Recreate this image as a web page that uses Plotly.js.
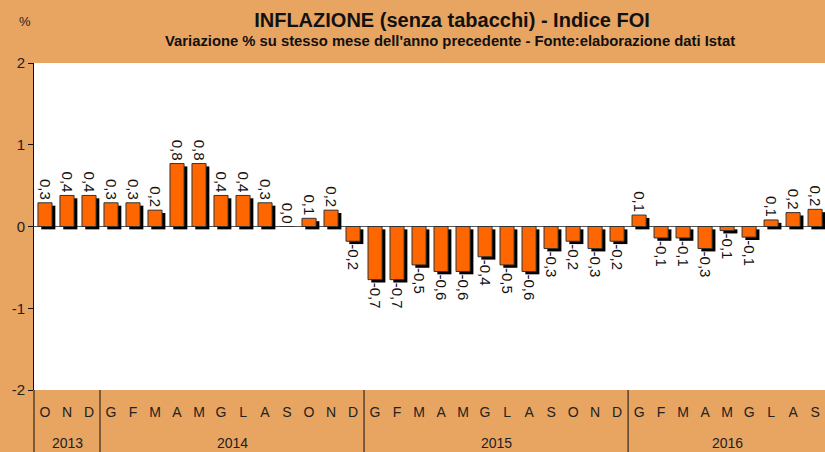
<!DOCTYPE html>
<html>
<head>
<meta charset="utf-8">
<script src="https://cdn.plot.ly/plotly-3.0.1.min.js"></script>
<style>html,body{margin:0;padding:0;overflow:hidden;background:#E8A461;}#chart{width:825px;height:452px;}</style>
</head>
<body>
<div id="chart"></div>
<script>
const months = ['O','N','D',
  'G','F','M','A','M','G','L','A','S','O','N','D',
  'G','F','M','A','M','G','L','A','S','O','N','D',
  'G','F','M','A','M','G','L','A','S'];
const years = ['2013','2014','2015','2016'];
const yearCounts = [3, 12, 12, 9];
const values = [0.29, 0.38, 0.38,
  0.29, 0.29, 0.20, 0.77, 0.77, 0.38, 0.38, 0.29, 0.00, 0.10, 0.20, -0.18,
  -0.65, -0.65, -0.47, -0.55, -0.55, -0.37, -0.47, -0.55, -0.27, -0.18, -0.27, -0.18,
  0.14, -0.14, -0.14, -0.27, -0.05, -0.13, 0.08, 0.17, 0.21];
const labels = ['0,3','0,4','0,4',
  '0,3','0,3','0,2','0,8','0,8','0,4','0,4','0,3','0,0','0,1','0,2','-0,2',
  '-0,7','-0,7','-0,5','-0,6','-0,6','-0,4','-0,5','-0,6','-0,3','-0,2','-0,3','-0,2',
  '0,1','-0,1','-0,1','-0,3','-0,1','-0,1','0,1','0,2','0,2'];
const yTicks = [-2, -1, 0, 1, 2];

const xs = months.map((m, i) => i);
const BW = 0.64;
const FONT = 'Liberation Sans, Arial, sans-serif';
const PLOT_L = 34, PLOT_W = 791, PLOT_H = 327;
const py = (pix) => (390 - pix) / PLOT_H;    // pixel y -> paper y
const px = (pix) => (pix - PLOT_L) / PLOT_W; // pixel x -> paper x

const shadow = {
  type: 'bar', x: xs, y: values, base: -0.035,
  width: BW, offset: -BW/2 + 0.15,
  marker: {color: '#000000', line: {width: 0}},
  hoverinfo: 'skip', showlegend: false
};
const bars = {
  type: 'bar', x: xs, y: values,
  width: BW, offset: -BW/2,
  marker: {color: '#FF6600', line: {color: '#333333', width: 1}},
  text: labels, textposition: 'outside', textangle: 90,
  constraintext: 'none', cliponaxis: false,
  textfont: {family: FONT, size: 15, color: '#111111'},
  hoverinfo: 'skip', showlegend: false
};

const annotations = [];
const shapes = [];
let start = 0;
years.forEach((y, k) => {
  const n = yearCounts[k];
  annotations.push({
    x: start + (n - 1) / 2, xref: 'x', y: py(443), yref: 'paper',
    text: y, showarrow: false, xanchor: 'center', yanchor: 'middle',
    font: {family: FONT, size: 14, color: '#222222'}
  });
  start += n;
  if (k < years.length - 1) {
    shapes.push({type: 'line', xref: 'x', yref: 'paper', x0: start - 0.5, x1: start - 0.5,
      y0: 0, y1: py(460), line: {color: '#111111', width: 1}});
  }
});
shapes.push({type: 'line', xref: 'paper', yref: 'paper', x0: 0, x1: 0,
  y0: 0, y1: py(460), line: {color: '#111111', width: 1}});

annotations.push({
  x: px(450), xref: 'paper', y: py(41), yref: 'paper',
  text: "<b>Variazione % su stesso mese dell'anno precedente - Fonte:elaborazione dati Istat</b>",
  showarrow: false, xanchor: 'center', yanchor: 'middle',
  font: {family: FONT, size: 14.8, color: '#111111'}
});
annotations.push({
  x: px(25), xref: 'paper', y: py(21), yref: 'paper',
  text: '%', showarrow: false, xanchor: 'center', yanchor: 'middle',
  font: {family: FONT, size: 13, color: '#222222'}
});

const layout = {
  width: 825, height: 452,
  margin: {l: 34, r: 0, t: 63, b: 62},
  paper_bgcolor: '#E8A461', plot_bgcolor: '#FFFFFF',
  barmode: 'overlay',
  title: {
    text: '<b>INFLAZIONE (senza tabacchi) - Indice FOI</b>',
    x: 452/825, xanchor: 'center', y: 1 - 20/452, yanchor: 'middle', yref: 'container',
    font: {family: FONT, size: 20, color: '#111111'}
  },
  xaxis: {
    range: [-0.5, 35.45], tickmode: 'array', tickvals: xs, ticktext: months,
    ticks: '', showline: false, showgrid: false, zeroline: false,
    ticklabelstandoff: 12,
    tickfont: {family: FONT, size: 14, color: '#222222'}, fixedrange: true
  },
  yaxis: {
    range: [-2, 2], tickmode: 'array', tickvals: yTicks, ticktext: yTicks.map(String),
    ticks: 'outside', ticklen: 5, tickcolor: '#111111',
    showline: true, linecolor: '#111111', linewidth: 1,
    showgrid: false, zeroline: true, zerolinecolor: '#555555', zerolinewidth: 1,
    tickfont: {family: FONT, size: 15, color: '#222222'}, fixedrange: true
  },
  annotations: annotations,
  shapes: shapes,
  showlegend: false
};

Plotly.newPlot('chart', [shadow, bars], layout, {displayModeBar: false, staticPlot: true});
</script>
</body>
</html>
